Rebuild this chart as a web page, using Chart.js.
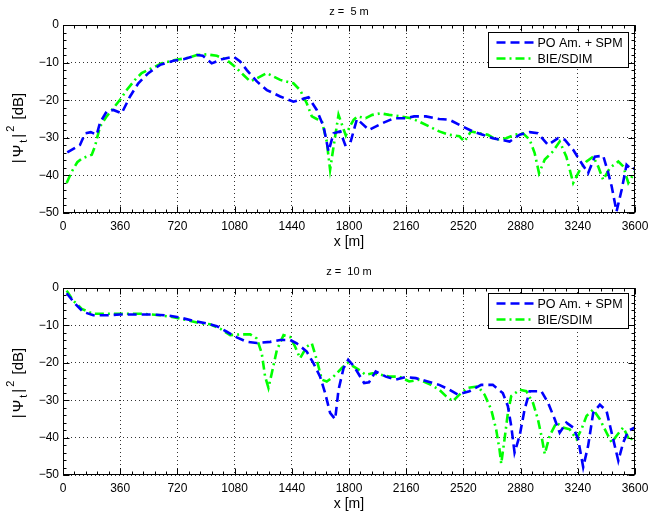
<!DOCTYPE html>
<html>
<head>
<meta charset="utf-8">
<script src="https://cdn.jsdelivr.net/npm/chart.js@4.4.1/dist/chart.umd.min.js"></script>
<style>
  body { margin: 0; background: #fff; }
  #wrap { position: relative; width: 648px; height: 514px; background: #fff; }
  canvas { position: absolute; left: 0; }
</style>
</head>
<body>
<div id="wrap">
  <canvas id="top" width="648" height="260" style="top:0"></canvas>
  <canvas id="bottom" width="648" height="254" style="top:260px"></canvas>
</div>
<script>
// tick labels
const xTicks = [0, 360, 720, 1080, 1440, 1800, 2160, 2520, 2880, 3240, 3600];
const yTicks = [0, -10, -20, -30, -40, -50];
const panelTitles = ['z =  5 m', 'z =  10 m'];
const seriesNames = ['PO Am. + SPM', 'BIE/SDIM'];

// z = 5 m, PO Am. + SPM
const poTopX = [27, 107, 139, 175, 212, 233, 275, 317, 369, 422, 474, 537, 611, 695, 758, 842, 880, 936, 999, 1073,
  1115, 1157, 1220, 1283, 1367, 1450, 1545, 1597, 1640, 1671, 1703, 1745, 1776, 1808, 1850, 1926, 2011, 2084, 2158, 2210,
  2284, 2368, 2432, 2516, 2579, 2642, 2705, 2811, 2874, 2937, 2989, 3053, 3116, 3158, 3211, 3263, 3305, 3347, 3400, 3432,
  3453, 3484, 3516, 3547, 3579, 3600];
const poTopY = [-33.9, -31.9, -28.8, -28.5, -29.2, -26, -23, -22.6, -23.5, -19, -15.5, -12.8, -10.6, -9.5, -9.1, -8, -8.2, -10.2, -9.1, -8.4,
  -9.7, -12, -15, -17.3, -19, -20.4, -19.2, -22.6, -27, -33.6, -28.8, -28.3, -31.9, -31.4, -25, -27.9, -26.1, -24.8, -24.8, -24.3,
  -24.3, -25, -25.2, -27, -28.3, -29.2, -30.1, -31, -29.2, -28.5, -28.8, -31.9, -30.1, -30.5, -33.2, -36.7, -39.4, -35, -34.8, -39.4,
  -42.9, -49.6, -43.8, -37.2, -38.5, -38];

// z = 5 m, BIE/SDIM
const bieTopX = [23, 55, 90, 120, 181, 201, 233, 275, 317, 359, 401, 453, 495, 558, 621, 705, 779, 842, 905, 968,
  1031, 1083, 1136, 1178, 1220, 1283, 1367, 1450, 1492, 1534, 1566, 1597, 1629, 1660, 1681, 1703, 1734, 1780, 1805, 1829,
  1853, 1905, 1947, 2000, 2053, 2126, 2189, 2242, 2305, 2368, 2432, 2495, 2526, 2568, 2621, 2674, 2726, 2789, 2842, 2895,
  2937, 2968, 2996, 3032, 3084, 3126, 3168, 3211, 3253, 3295, 3337, 3368, 3400, 3442, 3495, 3526, 3558, 3589, 3600];
const bieTopY = [-42, -39, -36.5, -35.5, -34.5, -32.3, -27, -24.3, -22.1, -19.9, -17.3, -14.6, -12.8, -11.5, -10.2, -9.3, -8.8, -8, -7.8, -8.2,
  -9.3, -11.1, -13.3, -15, -14.2, -12.8, -14.6, -15.5, -17.3, -20.8, -24.3, -25, -25.5, -31, -38.5, -32.3, -23.9, -29.4, -27, -25.2,
  -24.3, -24.8, -23.9, -23.5, -23.9, -24.3, -24.8, -25.7, -27, -28.3, -29.2, -29.6, -31, -28.3, -28.8, -29.2, -30.5, -30.1, -29.2, -28.8,
  -30.5, -34, -39.4, -35.8, -33.6, -31, -35, -42, -38.5, -36.3, -35, -37.6, -41.2, -38, -36.3, -37.6, -42, -39.8, -39];

// z = 10 m, PO Am. + SPM
const poBotX = [23, 76, 128, 191, 275, 359, 464, 569, 653, 737, 821, 905, 968, 1031, 1094, 1157, 1220, 1304, 1367, 1430,
  1471, 1534, 1576, 1618, 1650, 1681, 1713, 1734, 1766, 1795, 1832, 1895, 1926, 1968, 2032, 2095, 2158, 2221, 2295, 2368,
  2432, 2484, 2558, 2632, 2705, 2768, 2800, 2821, 2842, 2874, 2905, 2937, 3011, 3053, 3095, 3126, 3168, 3211, 3242, 3274,
  3305, 3337, 3379, 3421, 3453, 3495, 3526, 3558, 3600];
const poBotY = [-1.4, -4.2, -6.4, -7.3, -7.3, -7.1, -7.1, -7.1, -7.3, -7.9, -8.8, -9.5, -10.2, -11.7, -13.2, -14.4, -14.7, -14.4, -13.9, -13.9,
  -14.8, -17, -20.1, -23.7, -28.1, -33.4, -35.1, -27.2, -21.4, -19.2, -21, -25.4, -25.2, -22.3, -23.7, -24.5, -23.8, -24.1, -25, -25.9,
  -27.2, -28.5, -27.6, -25.9, -25.9, -28.1, -31.6, -36.9, -44, -39.5, -32.5, -27.6, -27.6, -30.7, -35.1, -38.7, -36, -37.3, -40.4, -47.9,
  -42.2, -33.4, -31.2, -32.9, -38.7, -46.2, -41.3, -38.2, -37.3];

// z = 10 m, BIE/SDIM
const bieBotX = [23, 65, 118, 191, 275, 401, 506, 611, 695, 779, 863, 926, 989, 1052, 1115, 1178, 1220, 1251, 1272, 1293,
  1314, 1346, 1388, 1430, 1461, 1492, 1534, 1566, 1597, 1629, 1660, 1702, 1755, 1792, 1863, 1905, 1947, 2000, 2053, 2116,
  2179, 2242, 2316, 2368, 2410, 2453, 2495, 2547, 2611, 2653, 2695, 2726, 2747, 2758, 2779, 2800, 2821, 2874, 2916, 2958,
  2989, 3011, 3032, 3063, 3105, 3147, 3189, 3232, 3263, 3295, 3337, 3379, 3421, 3453, 3484, 3526, 3568, 3600];
const bieBotY = [-0.7, -3.4, -5.6, -6.9, -6.9, -6.9, -6.9, -7.3, -7.8, -8.6, -9.4, -9.7, -10.9, -12.6, -12.4, -12.4, -13.5, -17.5, -23.7, -26.7,
  -22.8, -16.6, -12.6, -13.1, -15.7, -18.8, -15.7, -14.8, -19.2, -24.5, -25, -23.7, -21.4, -20, -21.9, -23.2, -22.8, -23.2, -23.7, -23.7,
  -25, -24.5, -25.9, -27.2, -28.9, -30.3, -28.5, -26.7, -26.3, -28.5, -32.5, -37.8, -43.1, -47, -40.4, -33.4, -28.9, -27.2, -27.6, -30.7,
  -35.1, -39.5, -44.4, -39.5, -36, -37.3, -37.8, -40.4, -37.8, -34.2, -32.5, -35.1, -38.7, -41.3, -39.5, -37.3, -40.9, -39.1];

const FONT = '"Liberation Sans", Arial, Helvetica, sans-serif';

function toPoints(xs, ys) {
  return xs.map((x, i) => ({ x: x, y: ys[i] }));
}

function drawYLabel(ctx, x, cy) {
  // |Ψ_t|^2 [dB], rotated
  const parts = [
    { t: '|', size: 15, dy: 0 },
    { t: 'Ψ', size: 15, dy: 0 },
    { t: 't', size: 11, dy: 5 },
    { t: '|', size: 15, dy: 0 },
    { t: '2', size: 11, dy: -8 },
    { t: ' [dB]', size: 15, dy: 0 }
  ];
  ctx.save();
  ctx.translate(x, cy);
  ctx.rotate(-Math.PI / 2);
  ctx.fillStyle = '#000';
  ctx.textBaseline = 'middle';
  ctx.textAlign = 'left';
  let total = 0;
  parts.forEach(p => { ctx.font = p.size + 'px ' + FONT; p.w = ctx.measureText(p.t).width + 2; total += p.w; });
  let cx = -total / 2;
  parts.forEach(p => {
    ctx.font = p.size + 'px ' + FONT;
    ctx.fillText(p.t, cx, p.dy);
    cx += p.w;
  });
  ctx.restore();
}

function makePanel(id, idx, poX, poY, bieX, bieY, axisH, padTop, titleGap, labelCy, legendTop) {
  const frame = {
    id: 'frame' + idx,
    afterDraw(chart) {
      const { ctx, chartArea: a } = chart;
      const xs = chart.scales.x, ys = chart.scales.y;
      const L = Math.round(a.left) + 0.5, R = Math.round(a.right) - 0.5;
      const T = Math.round(a.top) + 0.5, B = Math.round(a.bottom) - 0.5;
      ctx.save();
      ctx.strokeStyle = '#000';
      ctx.lineWidth = 1;
      ctx.setLineDash([]);
      ctx.beginPath();
      // inward ticks, major + minor
      for (let v = 0; v <= 3600; v += 72) {
        const px = Math.round(xs.getPixelForValue(v)) + 0.5;
        const len = v % 360 === 0 ? 6 : 3;
        ctx.moveTo(px, B); ctx.lineTo(px, B - len);
        ctx.moveTo(px, T); ctx.lineTo(px, T + len);
      }
      for (let v = -50; v <= 0; v += 2) {
        const py = Math.round(ys.getPixelForValue(v)) + 0.5;
        const len = v % 10 === 0 ? 6 : 3;
        ctx.moveTo(L, py); ctx.lineTo(L + len, py);
        ctx.moveTo(R, py); ctx.lineTo(R - len, py);
      }
      ctx.stroke();
      ctx.strokeRect(L, T, R - L, B - T);

      // legend box
      const bx = Math.round(a.right) - 147 + 0.5, by = Math.round(a.top) + legendTop + 0.5;
      const bw = 140, bh = 35;
      ctx.fillStyle = '#fff';
      ctx.fillRect(bx, by, bw, bh);
      ctx.strokeRect(bx, by, bw, bh);
      chart.data.datasets.forEach((ds, i) => {
        const ry = by + 10 + i * 16;
        ctx.save();
        ctx.strokeStyle = ds.borderColor;
        ctx.lineWidth = ds.borderWidth;
        ctx.setLineDash(ds.borderDash);
        ctx.beginPath();
        ctx.moveTo(bx + 8, ry);
        ctx.lineTo(bx + 46, ry);
        ctx.stroke();
        ctx.restore();
        ctx.fillStyle = '#000';
        ctx.font = '12.5px ' + FONT;
        ctx.textAlign = 'left';
        ctx.textBaseline = 'middle';
        ctx.fillText(ds.label, bx + 49, ry + 1);
      });

      // title and x label
      const mid = (a.left + a.right) / 2;
      ctx.fillStyle = '#000';
      ctx.textAlign = 'center';
      ctx.textBaseline = 'middle';
      ctx.font = '11px ' + FONT;
      ctx.fillText(panelTitles[idx], mid, a.top - titleGap);
      ctx.font = '14px ' + FONT;
      ctx.fillText('x [m]', mid, a.bottom + 29);
      ctx.restore();

      drawYLabel(ctx, 19, labelCy);
    }
  };

  const gridStyle = { color: 'rgba(0,0,0,0.8)', lineWidth: 1, drawTicks: false };
  const borderStyle = { display: false, dash: [1, 3] };
  const tickFont = { family: FONT, size: 12 };

  return new Chart(document.getElementById(id), {
    type: 'line',
    data: {
      datasets: [{
        label: seriesNames[0],
        data: toPoints(poX, poY),
        borderColor: '#0000ff',
        borderWidth: 2.6,
        borderDash: [9, 5],
        pointRadius: 0,
        tension: 0,
        fill: false
      }, {
        label: seriesNames[1],
        data: toPoints(bieX, bieY),
        borderColor: '#00ff00',
        borderWidth: 2.6,
        borderDash: [9, 4, 2, 4],
        pointRadius: 0,
        tension: 0,
        fill: false
      }]
    },
    options: {
      responsive: false,
      animation: false,
      layout: { padding: { left: 0, right: 13, top: padTop, bottom: 0 } },
      plugins: { legend: { display: false }, tooltip: { enabled: false } },
      scales: {
        x: {
          type: 'linear',
          min: 0,
          max: 3600,
          afterBuildTicks: s => { s.ticks = xTicks.map(v => ({ value: v })); },
          afterFit: s => { s.height = axisH; s.paddingLeft = 0; s.paddingRight = 0; },
          grid: gridStyle,
          border: borderStyle,
          ticks: { color: '#000', font: tickFont, padding: 6, maxRotation: 0, autoSkip: false, callback: v => String(v) }
        },
        y: {
          min: -50,
          max: 0,
          afterBuildTicks: s => { s.ticks = yTicks.map(v => ({ value: v })); },
          afterFit: s => { s.width = 63; s.paddingTop = 0; s.paddingBottom = 0; },
          grid: gridStyle,
          border: borderStyle,
          ticks: {
            color: '#000',
            font: tickFont,
            padding: 4,
            callback: v => (v < 0 ? '\u2212' + (-v) : String(v))
          }
        }
      }
    },
    plugins: [frame]
  });
}

makePanel('top', 0, poTopX, poTopY, bieTopX, bieTopY, 47, 25, 13, 127, 7);
makePanel('bottom', 1, poBotX, poBotY, bieBotX, bieBotY, 39, 28, 16, 122, 5);
</script>
</body>
</html>
